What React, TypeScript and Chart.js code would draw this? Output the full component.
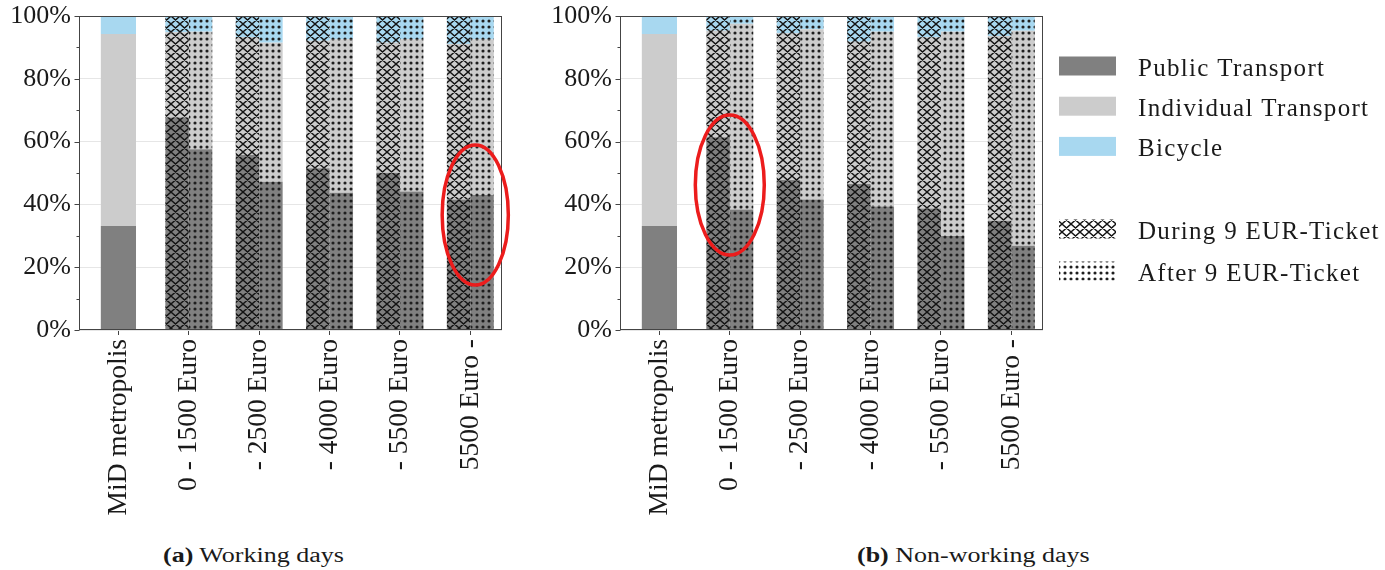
import React, { useEffect, useRef } from 'react';
import { Chart, registerables } from 'chart.js';

Chart.register(...registerables);

// ---------------- data ----------------
const categories = ['MiD metropolis', '0 - 1500 Euro', '- 2500 Euro', '- 4000 Euro', '- 5500 Euro', '5500 Euro -'];
const modeLabels = ['Public Transport', 'Individual Transport', 'Bicycle'];
const periodLabels = ['During 9 EUR-Ticket', 'After 9 EUR-Ticket'];
const captionA = ['(a)', 'Working days'];
const captionB = ['(b)', 'Non-working days'];

// MiD metropolis reference shares: public, individual, bicycle
const midShares = [33.1, 61.2, 5.7];

// Working days (income groups 1..5)
const workDuringPublic = [67.7, 55.7, 51.5, 50.1, 41.6];
const workDuringIndividual = [27.1, 37.6, 40.6, 41.4, 49.5];
const workDuringBicycle = [5.2, 6.7, 7.9, 8.5, 8.9];
const workAfterPublic = [57.6, 47.2, 43.7, 44.1, 43.0];
const workAfterIndividual = [37.4, 44.3, 48.9, 48.5, 49.6];
const workAfterBicycle = [5.0, 8.5, 7.4, 7.4, 7.4];

// Non-working days
const freeDuringPublic = [61.4, 47.8, 46.5, 38.7, 34.8];
const freeDuringIndividual = [33.9, 46.7, 45.3, 54.5, 58.8];
const freeDuringBicycle = [4.7, 5.5, 8.2, 6.8, 6.4];
const freeAfterPublic = [38.4, 41.6, 39.3, 29.9, 26.8];
const freeAfterIndividual = [59.1, 54.2, 55.7, 65.1, 68.5];
const freeAfterBicycle = [2.5, 4.2, 5.0, 5.0, 4.7];

// highlight ellipses: [category position, value %, half-width (categories), half-height (%)]
const workHighlight = [5.07, 36.6, 0.47, 22.3];
const freeHighlight = [1.0, 46.2, 0.49, 22.3];

// ---------------- styling ----------------
const FONT = '"Liberation Serif", "Times New Roman", serif';
const modeColors = ['#808080', '#cccccc', '#a8d8f0'];
const TEXT = '#1a1a1a';
const AXIS = '#444444';

function makePattern(color: string | null, kind: 'cross' | 'dots'): CanvasPattern | string {
  const c = document.createElement('canvas');
  const w = kind === 'cross' ? 9 : 6;
  const h = kind === 'cross' ? 8 : 6;
  c.width = w;
  c.height = h;
  const g = c.getContext('2d')!;
  if (color) {
    g.fillStyle = color;
    g.fillRect(0, 0, w, h);
  }
  if (kind === 'cross') {
    g.strokeStyle = '#141414';
    g.lineWidth = 1.35;
    g.beginPath();
    for (const dx of [-w, 0, w]) {
      g.moveTo(dx, 0);
      g.lineTo(dx + w, h);
      g.moveTo(dx, h);
      g.lineTo(dx + w, 0);
    }
    g.stroke();
  } else {
    g.fillStyle = '#1e1e1e';
    g.beginPath();
    g.arc(w / 2, h / 2, 1.55, 0, Math.PI * 2);
    g.fill();
  }
  return g.createPattern(c, 'repeat') || (color ?? '#000');
}

const framePlugin = {
  id: 'frameTicks',
  afterDatasetsDraw(chart: any) {
    const { ctx, chartArea } = chart;
    const y = chart.scales.y;
    ctx.save();
    ctx.strokeStyle = AXIS;
    ctx.lineWidth = 1;
    const l = Math.round(chartArea.left) + 0.5;
    const t = Math.round(chartArea.top) + 0.5;
    const r = Math.round(chartArea.right) - 0.5;
    const b = Math.round(chartArea.bottom) - 0.5;
    ctx.strokeRect(l, t, r - l, b - t);
    ctx.beginPath();
    for (let v = 0; v <= 100; v += 10) {
      const py = Math.round(y.getPixelForValue(v)) + 0.5;
      const len = v % 20 === 0 ? 5 : 3;
      ctx.moveTo(l - len, py);
      ctx.lineTo(l, py);
    }
    ctx.stroke();
    ctx.restore();
  },
};

const ellipsePlugin = {
  id: 'highlightEllipse',
  afterDatasetsDraw(chart: any, _args: any, opts: any) {
    const h = opts && opts.ellipse;
    if (!h) return;
    const { ctx } = chart;
    const xs = chart.scales.x;
    const ys = chart.scales.y;
    const cx = xs.getPixelForValue(h[0]);
    const cy = ys.getPixelForValue(h[1]);
    const rx = Math.abs(xs.getPixelForValue(h[0] + h[2]) - cx);
    const ry = Math.abs(ys.getPixelForValue(h[1] + h[3]) - cy);
    ctx.save();
    ctx.strokeStyle = '#ec1c1c';
    ctx.lineWidth = 3.5;
    ctx.beginPath();
    ctx.ellipse(cx, cy, rx, ry, 0, 0, Math.PI * 2);
    ctx.stroke();
    ctx.restore();
  },
};

const legendPlugin = {
  id: 'sideLegend',
  afterDraw(chart: any, _args: any, opts: any) {
    if (!opts || !opts.show) return;
    const { ctx, chartArea } = chart;
    const x0 = chartArea.right + 16;
    const items = [
      ...modeLabels.map((label, m) => ({ label, fill: modeColors[m] as any, dy: 50 + 40.2 * m })),
      { label: periodLabels[0], fill: makePattern(null, 'cross'), dy: 213 },
      { label: periodLabels[1], fill: makePattern(null, 'dots'), dy: 255 },
    ];
    ctx.save();
    for (const it of items) {
      const cy = chartArea.top + it.dy;
      ctx.fillStyle = it.fill;
      ctx.fillRect(x0, cy - 9.5, 57, 19);
      ctx.fillStyle = TEXT;
      ctx.font = `25px ${FONT}`;
      ctx.textBaseline = 'alphabetic';
      ctx.textAlign = 'left';
      (ctx as any).letterSpacing = '1.3px';
      ctx.fillText(it.label, x0 + 79, cy + 10);
    }
    ctx.restore();
  },
};

type PanelProps = {
  left: number;
  width: number;
  axisWidth: number;
  padRight: number;
  during: number[][];
  after: number[][];
  highlight: number[];
  legend: boolean;
};

function Panel({ left, width, axisWidth, padRight, during, after, highlight, legend }: PanelProps) {
  const ref = useRef<HTMLCanvasElement>(null);
  useEffect(() => {
    const canvas = ref.current!;
    const datasets: any[] = [];
    modeLabels.forEach((label, m) => {
      datasets.push({
        label,
        stack: 'mid',
        data: [{ x: 0, y: midShares[m] }],
        backgroundColor: modeColors[m],
        categoryPercentage: 1,
        barPercentage: 0.5,
      });
    });
    modeLabels.forEach((label, m) => {
      datasets.push({
        label: `${label} – ${periodLabels[0]}`,
        stack: 'during',
        data: during[m].map((v, i) => ({ x: i + 1, y: v })),
        backgroundColor: makePattern(modeColors[m], 'cross'),
        categoryPercentage: 0.667,
        barPercentage: 1,
      });
    });
    modeLabels.forEach((label, m) => {
      datasets.push({
        label: `${label} – ${periodLabels[1]}`,
        stack: 'after',
        data: after[m].map((v, i) => ({ x: i + 1, y: v })),
        backgroundColor: makePattern(modeColors[m], 'dots'),
        categoryPercentage: 0.667,
        barPercentage: 1,
      });
    });

    const chart = new Chart(canvas, {
      type: 'bar',
      data: { datasets },
      options: {
        animation: false,
        responsive: false,
        maintainAspectRatio: false,
        layout: { padding: { top: 16, right: padRight, left: 0, bottom: 0 } },
        datasets: { bar: { skipNull: true, borderWidth: 0 } } as any,
        plugins: {
          legend: { display: false },
          tooltip: { enabled: false },
          highlightEllipse: { ellipse: highlight },
          sideLegend: { show: legend },
        } as any,
        scales: {
          x: {
            type: 'linear',
            min: -0.56,
            max: 5.45,
            bounds: 'data',
            offset: false,
            grid: {
              display: true,
              drawOnChartArea: false,
              drawTicks: true,
              tickLength: 5,
              tickColor: AXIS,
              offset: false,
            },
            border: { display: false },
            afterBuildTicks: (s: any) => {
              s.ticks = categories.map((_, i) => ({ value: i }));
            },
            ticks: {
              autoSkip: false,
              maxRotation: 90,
              minRotation: 90,
              padding: 4,
              color: TEXT,
              font: { family: FONT, size: 27.5 },
              callback: (v: any) => {
                const r = Math.round(Number(v));
                return categories[r] !== undefined ? categories[r] : '';
              },
            },
            afterFit: (s: any) => {
              s.height = 200;
              s.paddingLeft = 0;
              s.paddingRight = 0;
            },
          } as any,
          y: {
            stacked: true,
            min: 0,
            max: 100,
            grid: { color: '#e6e6e6', lineWidth: 1, drawTicks: false },
            border: { display: false },
            ticks: {
              stepSize: 10,
              padding: 8,
              color: TEXT,
              font: { family: FONT, size: 26 },
              callback: (v: any) => (Number(v) % 20 === 0 ? `${v}%` : ''),
            },
            afterFit: (s: any) => {
              s.width = axisWidth;
              s.paddingTop = 0;
              s.paddingBottom = 0;
            },
          } as any,
        },
      },
      plugins: [framePlugin, ellipsePlugin, legendPlugin],
    });
    return () => chart.destroy();
  }, []);
  return (
    <canvas
      ref={ref}
      width={width}
      height={530}
      style={{ position: 'absolute', left, top: 0, width, height: 530 }}
    />
  );
}

function Caption({ left, parts }: { left: number; parts: string[] }) {
  return (
    <div
      style={{
        position: 'absolute',
        left,
        top: 543,
        font: `20px ${FONT}`,
        lineHeight: '24px',
        color: TEXT,
        whiteSpace: 'nowrap',
        transform: 'scaleX(1.3)',
        transformOrigin: 'left center',
      }}
    >
      <b>{parts[0]}</b> {parts[1]}
    </div>
  );
}

export default function App() {
  return (
    <div style={{ position: 'absolute', left: 0, top: 0, width: 1385, height: 570, background: '#fff', overflow: 'hidden' }}>
      <Panel
        left={0}
        width={530}
        axisWidth={79}
        padRight={28}
        during={[workDuringPublic, workDuringIndividual, workDuringBicycle]}
        after={[workAfterPublic, workAfterIndividual, workAfterBicycle]}
        highlight={workHighlight}
        legend={false}
      />
      <Panel
        left={540}
        width={845}
        axisWidth={80}
        padRight={342}
        during={[freeDuringPublic, freeDuringIndividual, freeDuringBicycle]}
        after={[freeAfterPublic, freeAfterIndividual, freeAfterBicycle]}
        highlight={freeHighlight}
        legend={true}
      />
      <Caption left={163} parts={captionA} />
      <Caption left={857} parts={captionB} />
    </div>
  );
}
